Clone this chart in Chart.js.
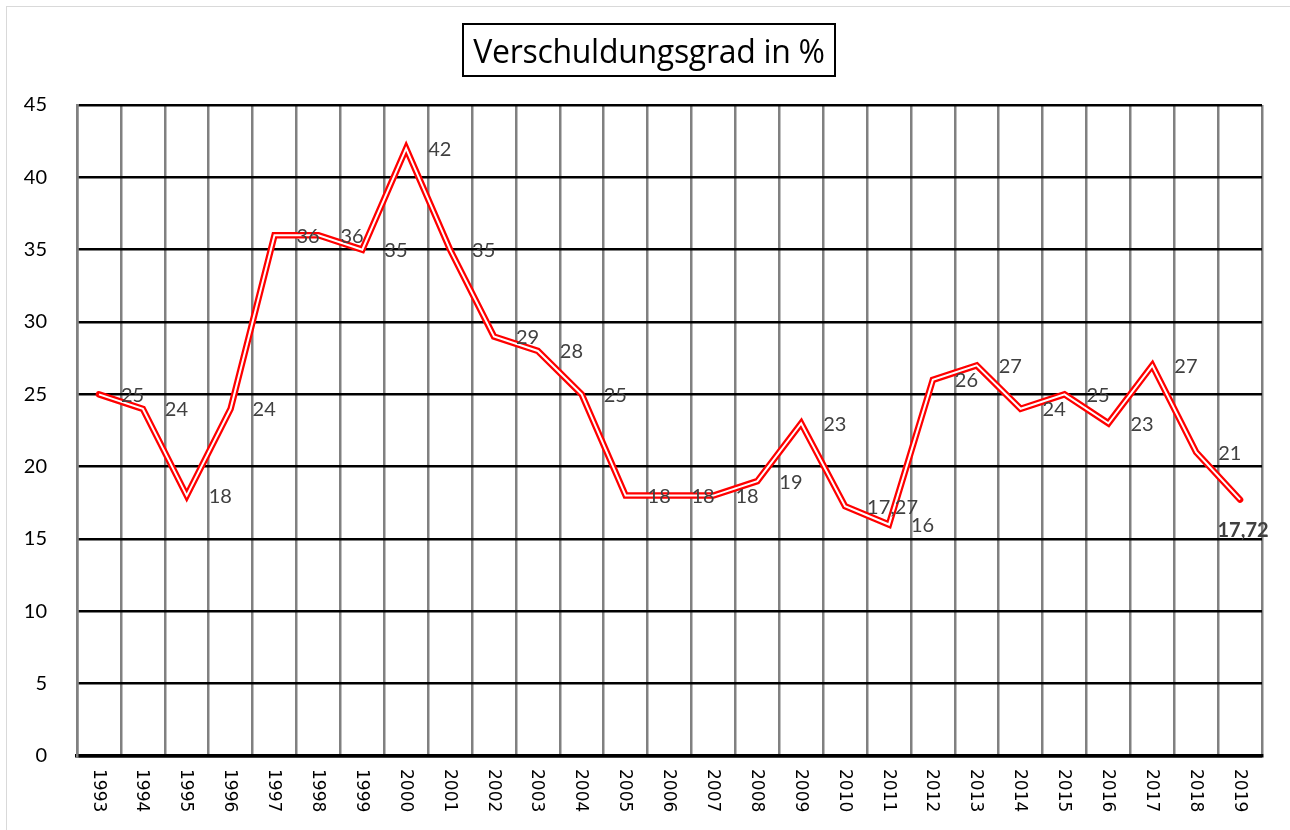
<!DOCTYPE html>
<html><head><meta charset="utf-8">
<script src="https://cdn.jsdelivr.net/npm/chart.js@4/dist/chart.umd.min.js"></script>
<style>
html,body{margin:0;padding:0;background:#fff;}
#wrap{position:relative;width:1290px;height:830px;overflow:hidden;background:#fff;}
#frame{position:absolute;left:6px;top:6px;width:1400px;height:900px;border:1.5px solid #d9d9d9;box-sizing:border-box;}
#title{position:absolute;top:23px;left:462px;width:374px;height:54px;border:2px solid #000;box-sizing:border-box;font:32px 'Open Sans';letter-spacing:-0.3px;color:#000;display:flex;align-items:center;justify-content:center;white-space:nowrap;}
canvas{position:absolute;left:0;top:0;}
</style></head>
<body>
<div id="wrap">
<div id="frame"></div>
<canvas id="c" width="1290" height="830"></canvas>
<div id="title">Verschuldungsgrad in %</div>
</div>
<script>
const years = ['1993','1994','1995','1996','1997','1998','1999','2000','2001','2002','2003','2004','2005','2006','2007','2008','2009','2010','2011','2012','2013','2014','2015','2016','2017','2018','2019'];
const values = [25,24,18,24,36,36,35,42,35,29,28,25,18,18,18,19,23,17.27,16,26,27,24,25,23,27,21,17.72];
const yTicks = [0,5,10,15,20,25,30,35,40,45];

function fmt(v){ return String(v).replace('.', ','); }

const labelPlugin = {
  id: 'pointLabels',
  afterDatasetsDraw(chart){
    const meta = chart.getDatasetMeta(1);
    const ctx = chart.ctx;
    ctx.save();
    ctx.fillStyle = '#404040';
    ctx.textBaseline = 'middle';
    meta.data.forEach((pt, i) => {
      const txt = fmt(values[i]);
      if (i === values.length - 1) {
        ctx.font = 'bold 20px Lato';
        ctx.textAlign = 'center';
        ctx.fillText(txt, pt.x + 3, pt.y + 31);
      } else {
        ctx.font = '20px Lato';
        ctx.textAlign = 'left';
        ctx.fillText(txt, pt.x + 22, pt.y + 1);
      }
    });
    ctx.restore();
  },
  afterDraw(chart){
    const xs = chart.scales.x;
    const ctx = chart.ctx;
    ctx.save();
    ctx.fillStyle = '#000';
    ctx.font = '17px "DejaVu Sans"';
    ctx.textAlign = 'left';
    ctx.textBaseline = 'middle';
    years.forEach((y, i) => {
      const x = xs.getPixelForTick(i);
      ctx.save();
      ctx.translate(x - 1, chart.chartArea.bottom + 13);
      ctx.rotate(Math.PI / 2);
      ctx.fillText(y, 0, 0);
      ctx.restore();
    });
    ctx.restore();
  }
};

new Chart(document.getElementById('c'), {
  type: 'line',
  data: {
    labels: years,
    datasets: [
      { label: 'inner', data: values, borderColor: '#ffffff', borderWidth: 2, pointRadius: 0, tension: 0, order: 0, borderJoinStyle: 'miter' },
      { label: 'Verschuldungsgrad', data: values, borderColor: '#ff0000', borderWidth: 6.5, pointRadius: 0, tension: 0, order: 1, borderCapStyle: 'round', borderJoinStyle: 'miter' }
    ]
  },
  options: {
    responsive: false,
    animation: false,
    events: [],
    layout: { padding: { left: 0, right: 28, top: 105, bottom: 0 } },
    plugins: { legend: { display: false }, tooltip: { enabled: false }, title: { display: false } },
    scales: {
      x: {
        type: 'category',
        offset: true,
        grid: { offset: true, color: '#808080', lineWidth: 2.5, drawTicks: false },
        border: { color: '#000', width: 3.5 },
        ticks: { display: false },
        afterFit(s){ s.height = 74; }
      },
      y: {
        min: 0, max: 45,
        afterBuildTicks(s){ s.ticks = yTicks.map(v => ({ value: v })); },
        grid: { color: '#000', lineWidth: 2.5, drawTicks: false },
        border: { color: '#808080', width: 2.5 },
        ticks: { color: '#000', font: { family: 'Lato', size: 20 }, padding: 30 },
        afterFit(s){ s.width = 77; }
      }
    }
  },
  plugins: [labelPlugin]
});
</script>
</body></html>
